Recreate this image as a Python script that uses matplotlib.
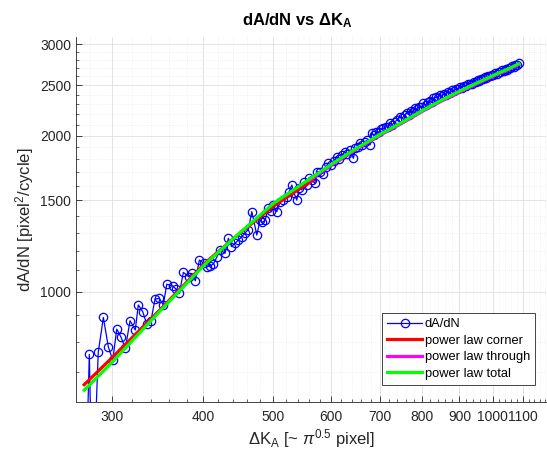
import matplotlib
matplotlib.use("Agg")
import matplotlib.pyplot as plt
from matplotlib.ticker import FixedLocator, NullFormatter

plt.rcParams['font.family'] = ['Liberation Sans', 'DejaVu Sans']
plt.rcParams['mathtext.fontset'] = 'custom'
plt.rcParams['mathtext.rm'] = 'Liberation Sans'
plt.rcParams['mathtext.it'] = 'Liberation Sans:italic'
plt.rcParams['mathtext.bf'] = 'Liberation Sans:bold'

dK = [276.5, 279.5, 282.3, 287.5, 292.2, 296.8, 301.0, 304.8, 309.0, 313.2,
      317.9, 323.2, 326.3, 330.9, 335.0, 339.6, 344.0, 348.7, 353.1, 357.0,
      363.8, 367.5, 371.5, 376.2, 382.6, 386.5, 390.7, 395.7, 402.0, 405.5,
      409.3, 413.6, 418.0, 422.5, 429.2, 433.7, 438.0, 443.0, 447.7, 452.5,
      457.5, 462.0, 467.0, 474.5, 479.4, 483.0, 487.1, 492.2, 496.0, 500.0,
      505.4, 510.7, 516.0, 521.6, 525.5, 529.9, 534.0, 538.3, 542.5, 546.9,
      551.0, 555.6, 560.0, 564.5, 570.0, 573.6, 579.4, 584.5, 589.5, 594.8,
      600.0, 605.5, 610.7, 616.0, 621.0, 626.5, 631.5, 637.0, 643.7, 648.0,
      652.5, 657.5, 662.5, 668.0, 673.0, 678.6, 682.2, 687.5, 692.5, 697.5,
      702.5, 707.7, 713.0, 718.0, 723.0, 728.0, 733.5, 739.0, 746.1, 751.5,
      757.0, 762.1, 767.5, 772.5, 777.5, 782.4, 788.0, 793.0, 798.0, 803.2,
      809.0, 814.0, 819.5, 824.0, 829.0, 835.0, 841.0, 846.0, 852.0, 857.0,
      863.0, 868.0, 874.0, 880.0, 885.0, 891.0, 896.0, 902.0, 907.0, 913.0,
      918.0, 924.0, 931.0, 936.0, 942.0, 947.0, 953.0, 958.0, 964.0, 969.0,
      975.0, 980.0, 986.0, 991.0, 997.0, 1002.0, 1008.0, 1013.0, 1019.0, 1024.0,
      1030.0, 1035.0, 1041.0, 1046.0, 1052.0, 1057.0, 1063.0, 1068.0, 1074.0, 1079.0,
      1085.0]
dAdN = [420, 757, 380, 764, 892, 783, 738, 847, 817, 778,
        879, 844, 943, 915, 868, 879, 968, 971, 943, 1034,
        1026, 1012, 993, 1090, 1069, 1085, 1050, 1151, 1134, 1118,
        1121, 1131, 1165, 1203, 1186, 1268, 1222, 1240, 1258, 1277,
        1300, 1318, 1427, 1286, 1375, 1360, 1375, 1448, 1430, 1470,
        1427, 1491, 1505, 1525, 1560, 1606, 1548, 1502, 1585, 1571,
        1625, 1606, 1660, 1642, 1618, 1704, 1704, 1690, 1738, 1769,
        1752, 1790, 1821, 1805, 1838, 1856, 1842, 1876, 1808, 1890,
        1904, 1933, 1915, 1948, 1962, 1919, 2021, 2002, 2035, 2028,
        2055, 2066, 2080, 2074, 2112, 2098, 2128, 2140, 2175, 2160,
        2192, 2208, 2196, 2230, 2222, 2258, 2248, 2274, 2266, 2308,
        2292, 2318, 2330, 2318, 2360, 2372, 2365, 2390, 2384, 2405,
        2400, 2428, 2420, 2446, 2440, 2462, 2455, 2478, 2472, 2496,
        2490, 2512, 2520, 2515, 2538, 2532, 2556, 2550, 2572, 2566,
        2590, 2584, 2606, 2600, 2622, 2618, 2640, 2632, 2655, 2650,
        2670, 2664, 2686, 2680, 2702, 2696, 2718, 2712, 2735, 2740,
        2765]

# fitted curves
corner_dK = [275, 300, 350, 404, 450, 500, 550, 567]
corner_fit = [662, 745, 925, 1140, 1298, 1462, 1598, 1642]

through_dK = [560, 600, 650, 700, 750, 800, 850, 900, 950, 1000, 1050, 1085]
through_fit = [1640, 1752, 1882, 2002, 2111, 2226, 2330, 2425, 2515, 2600, 2680, 2740]

total_dK = [275, 300, 350, 404, 450, 500, 550, 600, 650, 700, 750, 800, 850,
            900, 950, 1000, 1050, 1085]
total_fit = [646, 730, 920, 1134, 1300, 1480, 1620, 1760, 1890, 2010, 2120, 2235,
             2340, 2435, 2525, 2610, 2690, 2750]

x_major = [300, 400, 500, 600, 700, 800, 900, 1000, 1100]
y_major = [1000, 1500, 2000, 2500, 3000]

fig = plt.figure(figsize=(5.47, 4.59), dpi=100)
ax = fig.add_axes([76 / 547, 57 / 459, 470 / 547, 365 / 459])

ax.plot(dK, dAdN, '-o', color='blue', lw=0.9, markersize=6, mfc='none', mew=0.9, label='dA/dN')
ax.plot(corner_dK, corner_fit, color='red', lw=2.3, label='power law corner')
ax.plot(through_dK, through_fit, color='magenta', lw=2.3, label='power law through')
ax.plot(total_dK, total_fit, color='#00ff00', lw=2.3, label='power law total')

ax.set_xscale('log')
ax.set_yscale('log')
ax.set_xlim(268, 1183)
ax.set_ylim(613, 3098)

ax.xaxis.set_major_locator(FixedLocator(x_major))
ax.xaxis.set_minor_locator(FixedLocator([v for v in range(280, 1181, 20) if v not in x_major]))
ax.set_xticklabels([str(v) for v in x_major])
ax.xaxis.set_minor_formatter(NullFormatter())
ax.yaxis.set_major_locator(FixedLocator(y_major))
ax.yaxis.set_minor_locator(FixedLocator([v for v in range(700, 3001, 100) if v not in y_major]))
ax.set_yticklabels([str(v) for v in y_major])
ax.yaxis.set_minor_formatter(NullFormatter())

ax.tick_params(which='both', direction='in', colors='#262626', labelsize=10)
ax.tick_params(which='major', length=4, width=0.6)
ax.tick_params(which='minor', length=2, width=0.5)
ax.tick_params(axis='x', pad=6)

ax.grid(which='major', color='#dedede', lw=0.6, ls='-')
ax.grid(which='minor', color='#e8e8e8', lw=0.5, ls=':')
ax.set_axisbelow(True)

ax.spines['top'].set_visible(False)
ax.spines['right'].set_visible(False)
for s in ['left', 'bottom']:
    ax.spines[s].set_color('#262626')
    ax.spines[s].set_linewidth(0.6)

ax.set_xlabel(r'ΔK$_\mathregular{A}$ [~ $\pi^{\mathregular{0.5}}$ pixel]', fontsize=12, color='#262626', labelpad=2)
ax.set_ylabel(r'dA/dN [pixel$^\mathregular{2}$/cycle]', fontsize=12, color='#262626', labelpad=3)
fig.text(297 / 547, 1 - 21 / 459, r'dA/dN vs ΔK$_\mathbf{A}$', ha='center', va='center',
         fontsize=12, fontweight='bold')

leg = ax.legend(loc='upper left', bbox_to_anchor=(382 / 547, 1 - 313 / 459),
                bbox_transform=fig.transFigure, borderaxespad=0, fontsize=9.3,
                fancybox=False, framealpha=1, edgecolor='#262626',
                handlelength=2.7, handletextpad=0.2, labelspacing=0.35, borderpad=0.4)
leg.get_frame().set_linewidth(0.6)

fig.savefig('out.png', dpi=100)
